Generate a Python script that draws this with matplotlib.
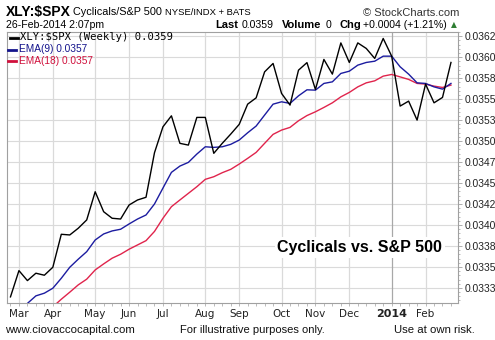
import numpy as np
import matplotlib
matplotlib.use("Agg")
import matplotlib.pyplot as plt
import matplotlib.dates as mdates
from matplotlib.ticker import FixedLocator, MultipleLocator
import datetime as dt

# ---- data (weekly, starting Mon 2013-02-25) ----
start = dt.date(2013, 2, 25)
n_weeks = 53
dates = [start + dt.timedelta(weeks=i) for i in range(n_weeks)]

ratio = [0.033143, 0.033456, 0.033337, 0.033425, 0.033401, 0.033496, 0.033889, 0.033881,
         0.033961, 0.034060, 0.034396, 0.034158, 0.034080, 0.034071, 0.034238, 0.034298,
         0.034330, 0.034861, 0.035170, 0.035301, 0.034973, 0.034952, 0.035282, 0.035282,
         0.034854, 0.034973, 0.035083, 0.035199, 0.035440, 0.035515, 0.035825, 0.035925,
         0.035568, 0.035429, 0.035845, 0.035935, 0.035615, 0.035973, 0.035798, 0.036170,
         0.035937, 0.036170, 0.036104, 0.035985, 0.036223, 0.036012, 0.035417, 0.035476,
         0.035250, 0.035679, 0.035456, 0.035520, 0.035937]

ema9 = [np.nan, 0.032976, 0.033065, 0.033155, 0.033187, 0.033246, 0.033365, 0.033496,
        0.033592, 0.033682, 0.033821, 0.033893, 0.033929, 0.033949, 0.034012, 0.034071,
        0.034119, 0.034250, 0.034440, 0.034627, 0.034702, 0.034746, 0.034845, 0.034932,
        0.034925, 0.034932, 0.034961, 0.035012, 0.035099, 0.035179, 0.035310, 0.035440,
        0.035468, 0.035449, 0.035539, 0.035611, 0.035607, 0.035687, 0.035706, 0.035806,
        0.035833, 0.035905, 0.035937, 0.035952, 0.036012, 0.036012, 0.035885, 0.035798,
        0.035694, 0.035687, 0.035646, 0.035619, 0.035687]

ema18 = [np.nan, np.nan, np.nan, np.nan, 0.032940, 0.033024, 0.033115, 0.033199,
         0.033286, 0.033354, 0.033464, 0.033536, 0.033604, 0.033651, 0.033711, 0.033762,
         0.033813, 0.033923, 0.034080, 0.034218, 0.034298, 0.034377, 0.034456, 0.034544,
         0.034575, 0.034623, 0.034663, 0.034726, 0.034794, 0.034865, 0.034973, 0.035080,
         0.035131, 0.035163, 0.035242, 0.035304, 0.035349, 0.035401, 0.035456, 0.035527,
         0.035580, 0.035646, 0.035694, 0.035718, 0.035774, 0.035794, 0.035765, 0.035735,
         0.035687, 0.035679, 0.035655, 0.035639, 0.035667]

month_ticks = [dt.date(2013, 3, 4), dt.date(2013, 4, 1), dt.date(2013, 5, 6), dt.date(2013, 6, 3),
               dt.date(2013, 7, 1), dt.date(2013, 8, 5), dt.date(2013, 9, 2), dt.date(2013, 10, 7),
               dt.date(2013, 11, 4), dt.date(2013, 12, 2), dt.date(2014, 1, 6), dt.date(2014, 2, 3)]
month_labels = ["Mar", "Apr", "May", "Jun", "Jul", "Aug", "Sep", "Oct", "Nov", "Dec", "2014", "Feb"]

y_ticks = [0.03325, 0.0335, 0.03375, 0.0340, 0.03425, 0.0345, 0.03475, 0.0350,
           0.03525, 0.0355, 0.03575, 0.0360, 0.03625]
y_labels = ["0.0333", "0.0335", "0.0338", "0.0340", "0.0342", "0.0345", "0.0347", "0.0350",
            "0.0353", "0.0355", "0.0358", "0.0360", "0.0362"]

# ---- figure ----
W, H = 495, 340
fig = plt.figure(figsize=(W / 100, H / 100), dpi=100)
L, R, T, B = 7, 458, 32, 303
ax = fig.add_axes([L / W, 1 - B / H, (R - L) / W, (B - T) / H])

xd = mdates.date2num(dates)
ax.plot(xd, ratio, color="black", lw=1.0, zorder=5)
ax.plot(xd, ema18, color="#e0244c", lw=1.0, zorder=4)
ax.plot(xd, ema9, color="#1c1ca0", lw=1.0, zorder=4)

x0 = mdates.date2num(start)
ax.set_xlim(x0 - 0.41 * 7, x0 + 52.83 * 7)
ax.set_ylim(0.03307, 0.0363)

grid_c = "#dadada"
for yt in y_ticks:
    ax.axhline(yt, color=grid_c, lw=0.8, zorder=1)
for d, lab in zip(month_ticks, month_labels):
    c = "#a8a8a8" if lab == "2014" else grid_c
    ax.axvline(mdates.date2num(d), color=c, lw=0.9, zorder=1)

ax.yaxis.tick_right()
ax.yaxis.set_major_locator(FixedLocator(y_ticks))
ax.set_yticklabels(y_labels, family="Liberation Sans")
ax.yaxis.set_minor_locator(MultipleLocator(0.00005))
ax.tick_params(axis="y", which="major", length=3, width=0.6, color="#a0a0a0",
               labelsize=7.4, pad=1.5, labelcolor="#222222")
ax.tick_params(axis="y", which="minor", length=1.5, width=0.5, color="#a0a0a0")

ax.xaxis.set_major_locator(FixedLocator(mdates.date2num(month_ticks)))
ax.set_xticklabels(month_labels)
ax.xaxis.set_minor_locator(FixedLocator(xd))
ax.tick_params(axis="x", which="major", length=2, width=0.5, color="#a0a0a0",
               labelsize=7.5, pad=2.5, labelcolor="#222222")
ax.tick_params(axis="x", which="minor", length=2, width=0.5, color="#a0a0a0")
for lbl in ax.get_xticklabels():
    if lbl.get_text() == "2014":
        lbl.set_fontweight("bold")
        lbl.set_fontsize(8)

for s in ax.spines.values():
    s.set_color("#a0a0a0")
    s.set_linewidth(0.8)

# in-chart legend
def pt(x, y):
    return (x / W, 1 - y / H)

legend_items = [("XLY:$SPX (Weekly) 0.0359", "black", 37.5, "DejaVu Sans Mono", 7.6, 10, 20),
                ("EMA(9) 0.0357", "#14148c", 49.5, "Liberation Sans", 7.3, 8, 19),
                ("EMA(18) 0.0357", "#d0103c", 61, "Liberation Sans", 7.3, 8, 19)]
for txt, col, yy, fam, fs, x1, xt in legend_items:
    fig.add_artist(plt.Line2D([x1 / W, (x1 + 8) / W], [1 - yy / H, 1 - yy / H], color=col, lw=2))
    fig.text(*pt(xt, yy), txt, color=col, fontsize=fs, va="center", ha="left", family=fam)

# annotation
ax.text(0.965, 0.205, "Cyclicals vs. S&P 500", transform=ax.transAxes, ha="right", va="center",
        fontsize=11.5, fontweight="bold", family="Liberation Sans", zorder=6,
        bbox=dict(facecolor="white", edgecolor="none", pad=2))

# header
fig.text(*pt(6, 12), "XLY:$SPX", fontsize=10, fontweight="bold", va="center", ha="left",
         family="Liberation Sans")
fig.text(*pt(73, 12), "Cyclicals/S&P 500", fontsize=7.8, va="center", ha="left",
         family="Liberation Sans")
fig.text(*pt(165, 12.5), "NYSE/INDX + BATS", fontsize=6.8, va="center", ha="left",
         family="Liberation Sans")
fig.text(*pt(459, 13), "\u00a9 StockCharts.com", fontsize=8, va="center", ha="right",
         family="Liberation Sans", color="#333333")
fig.text(*pt(6, 25.5), "26-Feb-2014 2:07pm", fontsize=7.6, va="center", ha="left",
         family="Liberation Sans")
fig.text(*pt(215, 25), "Last", fontsize=8, fontweight="bold", va="center", ha="left",
         family="Liberation Sans")
fig.text(*pt(242, 25.5), "0.0359", fontsize=7.6, va="center", ha="left", family="Liberation Sans")
fig.text(*pt(282, 25), "Volume", fontsize=8, fontweight="bold", va="center", ha="left",
         family="Liberation Sans")
fig.text(*pt(326, 25.5), "0", fontsize=7.6, va="center", ha="left", family="Liberation Sans")
fig.text(*pt(339, 25), "Chg", fontsize=8, fontweight="bold", va="center", ha="left",
         family="Liberation Sans")
fig.text(*pt(363, 25.5), "+0.0004 (+1.21%)", fontsize=7.6, va="center", ha="left",
         family="Liberation Sans")
fig.text(*pt(454, 24.5), "\u25b2", fontsize=5.5, va="center", ha="center", color="#2e7d32",
         family="DejaVu Sans")

# footer
fig.text(*pt(5, 330), "www.ciovaccocapital.com", fontsize=8.2, va="center", ha="left",
         family="Liberation Sans", color="#111111")
fig.text(*pt(180, 330), "For illustrative purposes only.", fontsize=8.0, va="center", ha="left",
         family="Liberation Sans", color="#111111")
fig.text(*pt(394, 330), "Use at own risk.", fontsize=8.2, va="center", ha="left",
         family="Liberation Sans", color="#111111")

fig.savefig("out.png", dpi=100, facecolor="white")
